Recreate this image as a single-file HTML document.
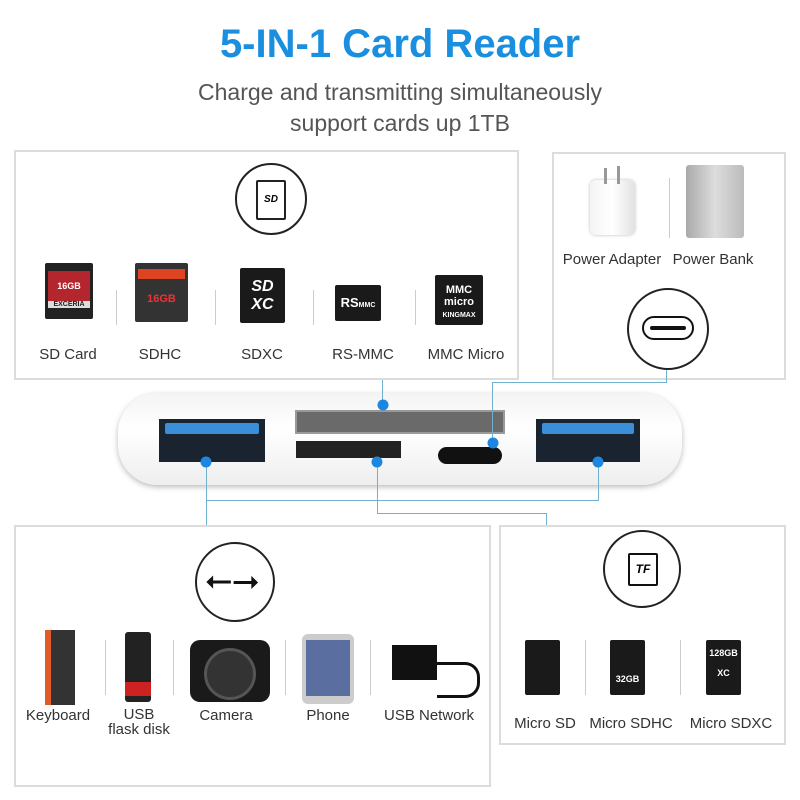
<!DOCTYPE html>
<html><head><meta charset="utf-8"><style>
body{margin:0;width:800px;height:800px;background:#fff;position:relative;overflow:hidden;font-family:"Liberation Sans",sans-serif}
.a{position:absolute}
.box{position:absolute;border:2px solid #dcdcdc;background:#fff;box-sizing:border-box}
.lbl{position:absolute;font-size:15px;color:#333;text-align:center;white-space:nowrap;transform:translateX(-50%)}
.circ{position:absolute;border:2px solid #222;border-radius:50%;box-sizing:border-box;background:#fff}
.sep{position:absolute;width:1px;background:#ccc}
.card{position:absolute;background:#1a1a1a;border-radius:2px;color:#fff;font-weight:bold;text-align:center;font-size:10px}
.ln{position:absolute;background:#6fb1cf}
.dot{position:absolute;width:11px;height:11px;border-radius:50%;background:#1c86e0;transform:translate(-50%,-50%)}
</style></head><body>
<div class="a" style="left:0;width:800px;top:22px;text-align:center;font-size:40px;font-weight:bold;color:#1a8fe0">5-IN-1 Card Reader</div>
<div class="a" style="left:0;width:800px;top:77px;text-align:center;font-size:23px;color:#555;line-height:31px">Charge and transmitting simultaneously<br>support cards up 1TB</div>

<div class="box" style="left:14px;top:150px;width:505px;height:230px"></div>
<div class="circ" style="left:235px;top:163px;width:72px;height:72px"></div>
<div class="a" style="left:256px;top:180px;width:30px;height:40px;border:2px solid #222;border-radius:2px;box-sizing:border-box;font-size:10px;font-weight:bold;text-align:center;line-height:36px;font-style:italic">SD</div>
<div class="card" style="left:45px;top:263px;width:48px;height:56px;background:#222"><div style="margin:8px 3px 0;height:30px;background:#b3262d;font-size:9px;line-height:30px">16GB</div><div style="margin:0 3px;background:#ddd;color:#222;font-size:7px">EXCERIA</div></div>
<div class="card" style="left:135px;top:263px;width:53px;height:59px;background:#333"><div style="margin:6px 3px 0;height:10px;background:#d42"></div><div style="color:#e33;font-size:11px;margin-top:14px">16GB</div></div>
<div class="card" style="left:240px;top:268px;width:45px;height:55px;font-size:16px;line-height:18px;padding-top:10px;box-sizing:border-box;font-style:italic">SD<br>XC</div>
<div class="card" style="left:335px;top:285px;width:46px;height:36px;font-size:13px;line-height:36px">RS<span style="font-size:7px">MMC</span></div>
<div class="card" style="left:435px;top:275px;width:48px;height:50px;font-size:11px;line-height:12px;padding-top:9px;box-sizing:border-box">MMC<br>micro<br><span style="font-size:7px">KINGMAX</span></div>
<div class="sep" style="left:116px;top:290px;height:35px"></div>
<div class="sep" style="left:215px;top:290px;height:35px"></div>
<div class="sep" style="left:313px;top:290px;height:35px"></div>
<div class="sep" style="left:415px;top:290px;height:35px"></div>
<div class="lbl" style="left:68px;top:346px">SD Card</div>
<div class="lbl" style="left:160px;top:346px">SDHC</div>
<div class="lbl" style="left:262px;top:346px">SDXC</div>
<div class="lbl" style="left:363px;top:346px">RS-MMC</div>
<div class="lbl" style="left:466px;top:346px">MMC Micro</div>

<div class="box" style="left:552px;top:152px;width:234px;height:228px"></div>
<div class="a" style="left:590px;top:180px;width:45px;height:55px;background:linear-gradient(90deg,#f4f4f4,#fff,#e2e2e2);border-radius:6px;box-shadow:0 0 3px #bbb"></div>
<div class="a" style="left:604px;top:168px;width:3px;height:16px;background:#999"></div>
<div class="a" style="left:617px;top:166px;width:3px;height:18px;background:#999"></div>
<div class="sep" style="left:669px;top:178px;height:60px"></div>
<div class="a" style="left:686px;top:165px;width:58px;height:73px;background:linear-gradient(90deg,#aaa,#ddd,#bbb);border-radius:3px"></div>
<div class="lbl" style="left:612px;top:251px">Power Adapter</div>
<div class="lbl" style="left:713px;top:251px">Power Bank</div>
<div class="circ" style="left:627px;top:288px;width:82px;height:82px"></div>
<div class="a" style="left:642px;top:316px;width:52px;height:24px;border:2px solid #111;border-radius:12px;box-sizing:border-box"></div>
<div class="a" style="left:650px;top:326px;width:36px;height:4px;background:#111;border-radius:2px"></div>

<!-- hub -->
<div class="a" style="left:118px;top:393px;width:564px;height:92px;border-radius:40px;background:linear-gradient(#f4f4f4,#fff 40%,#eee);box-shadow:0 2px 6px #bbb"></div>
<div class="a" style="left:159px;top:419px;width:106px;height:43px;background:#1a2330"><div style="margin:4px 6px;height:11px;background:#3a8fd8;border-radius:2px"></div></div>
<div class="a" style="left:536px;top:419px;width:104px;height:43px;background:#1a2330"><div style="margin:4px 6px;height:11px;background:#3a8fd8;border-radius:2px"></div></div>
<div class="a" style="left:295px;top:410px;width:210px;height:24px;background:#6a6a6a;border:2px solid #999;box-sizing:border-box"></div>
<div class="a" style="left:296px;top:441px;width:105px;height:17px;background:#222"></div>
<div class="a" style="left:438px;top:447px;width:64px;height:17px;background:#111;border-radius:9px"></div>

<!-- connectors -->
<div class="ln" style="left:382px;top:380px;width:1px;height:26px"></div>
<div class="ln" style="left:492px;top:382px;width:1px;height:62px"></div>
<div class="ln" style="left:492px;top:382px;width:175px;height:1px"></div>
<div class="ln" style="left:666px;top:370px;width:1px;height:13px"></div>
<div class="ln" style="left:206px;top:462px;width:1px;height:65px"></div>
<div class="ln" style="left:206px;top:500px;width:393px;height:1px"></div>
<div class="ln" style="left:598px;top:462px;width:1px;height:38px"></div>
<div class="ln" style="left:377px;top:462px;width:1px;height:52px"></div>
<div class="ln" style="left:377px;top:513px;width:170px;height:1px"></div>
<div class="ln" style="left:546px;top:513px;width:1px;height:14px"></div>
<div class="dot" style="left:383px;top:405px"></div>
<div class="dot" style="left:493px;top:443px"></div>
<div class="dot" style="left:377px;top:462px"></div>
<div class="dot" style="left:206px;top:462px"></div>
<div class="dot" style="left:598px;top:462px"></div>

<!-- bottom left -->
<div class="box" style="left:14px;top:525px;width:477px;height:262px"></div>
<div class="circ" style="left:195px;top:542px;width:80px;height:80px"></div>
<div class="a" style="left:205px;top:560px;font-size:34px;line-height:40px;color:#111">⭠⭢</div>
<div class="a" style="left:45px;top:630px;width:30px;height:75px;background:#333;border-left:6px solid #e05a2a;box-sizing:border-box"></div>
<div class="a" style="left:125px;top:632px;width:26px;height:70px;background:#222;border-radius:3px"><div style="margin-top:50px;height:14px;background:#c22"></div></div>
<div class="a" style="left:190px;top:640px;width:80px;height:62px;background:#1a1a1a;border-radius:10px"><div style="margin:8px auto;width:46px;height:46px;border-radius:50%;background:#333;border:3px solid #555"></div></div>
<div class="a" style="left:302px;top:634px;width:52px;height:70px;background:#ccc;border-radius:6px"><div style="margin:6px 4px;height:56px;background:#5a6fa0"></div></div>
<div class="a" style="left:392px;top:645px;width:45px;height:35px;background:#111"></div>
<div class="a" style="left:437px;top:662px;width:40px;height:30px;border:3px solid #111;border-left:none;border-radius:0 15px 15px 0"></div>
<div class="sep" style="left:105px;top:640px;height:55px"></div>
<div class="sep" style="left:173px;top:640px;height:55px"></div>
<div class="sep" style="left:285px;top:640px;height:55px"></div>
<div class="sep" style="left:370px;top:640px;height:55px"></div>
<div class="lbl" style="left:58px;top:707px">Keyboard</div>
<div class="lbl" style="left:139px;top:707px;line-height:15px">USB<br>flask disk</div>
<div class="lbl" style="left:226px;top:707px">Camera</div>
<div class="lbl" style="left:328px;top:707px">Phone</div>
<div class="lbl" style="left:429px;top:707px">USB Network</div>

<!-- bottom right -->
<div class="box" style="left:499px;top:525px;width:287px;height:220px"></div>
<div class="circ" style="left:603px;top:530px;width:78px;height:78px"></div>
<div class="a" style="left:628px;top:553px;width:30px;height:33px;border:2px solid #111;border-radius:2px;box-sizing:border-box;font-size:12px;font-weight:bold;font-style:italic;text-align:center;line-height:29px">TF</div>
<div class="card" style="left:525px;top:640px;width:35px;height:55px"></div>
<div class="card" style="left:610px;top:640px;width:35px;height:55px;font-size:9px;padding-top:34px;box-sizing:border-box">32GB</div>
<div class="card" style="left:706px;top:640px;width:35px;height:55px;font-size:9px;padding-top:8px;box-sizing:border-box">128GB<br><br>XC</div>
<div class="sep" style="left:585px;top:640px;height:55px"></div>
<div class="sep" style="left:680px;top:640px;height:55px"></div>
<div class="lbl" style="left:545px;top:715px">Micro SD</div>
<div class="lbl" style="left:631px;top:715px">Micro SDHC</div>
<div class="lbl" style="left:731px;top:715px">Micro SDXC</div>
</body></html>
